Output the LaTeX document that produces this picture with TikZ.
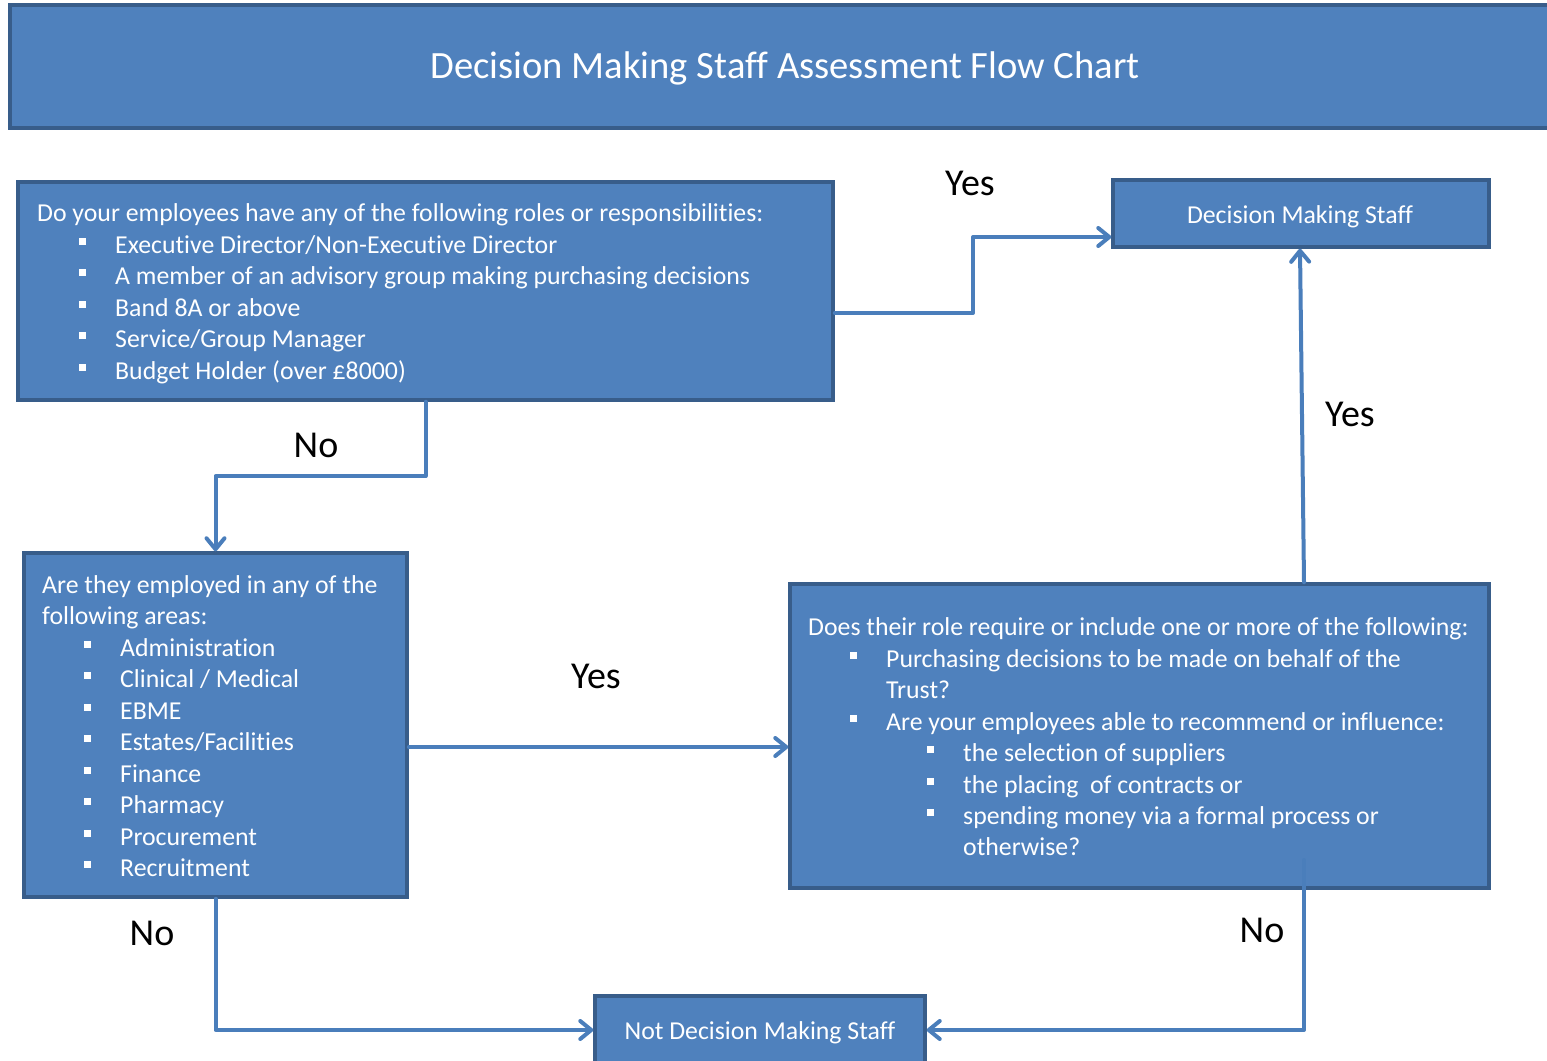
\documentclass[tikz,border=0pt]{standalone}
\usepackage{fontspec}
\setmainfont{Carlito}[Ligatures={NoCommon,NoContextual},RawFeature={-liga;-clig;-rlig;-dlig}]
\usetikzlibrary{arrows.meta}
\definecolor{boxfill}{HTML}{4F81BD}
\definecolor{boxline}{HTML}{385D8A}
\definecolor{connline}{HTML}{4A7EBB}
\newcommand{\bsq}{\raisebox{8.5pt}{\rule{6.5pt}{6.5pt}}}
\newcommand{\bl}[1]{\makebox[36pt][l]{\bsq}#1}
\tikzset{
  box/.style={draw=boxline, fill=boxfill, line width=3.5pt, rectangle, inner sep=0pt},
  txt/.style={text=white, inner sep=0pt, anchor=base west, font=\fontsize{25.8}{31.5}\selectfont},
  ctxt/.style={text=white, inner sep=0pt, anchor=base, font=\fontsize{25.8}{31.5}\selectfont},
  lbl/.style={text=black, inner sep=0pt, anchor=base, font=\fontsize{38}{42}\selectfont},
  conn/.style={draw=connline, line width=4pt, line join=round, line cap=round,
    -{Straight Barb[length=11pt, width=18pt, line cap=round, line join=round]}},
}
\begin{document}
\begin{tikzpicture}[x=1pt, y=-1pt]
\useasboundingbox (0,0) rectangle (1547,1060);
% boxes
\node[box, minimum width=1560pt, minimum height=123pt] (title) at (790,66.5) {};
\node[text=white, inner sep=0pt, anchor=base, font=\fontsize{38.6}{42}\selectfont] (titletxt) at (785,78) {Decision Making Staff Assessment Flow Chart};
\node[box, minimum width=815pt, minimum height=218pt] (b1) at (425.5,291) {};
\node[box, minimum width=376pt, minimum height=67pt] (dms) at (1301,213.5) {};
\node[box, minimum width=383pt, minimum height=344pt] (b2) at (215.5,725) {};
\node[box, minimum width=699pt, minimum height=304pt] (b3) at (1139.5,736) {};
\node[box, minimum width=330pt, minimum height=80pt] (ndms) at (760,1036) {};
% box texts
\node[ctxt] (dmst) at (1300,223) {Decision Making Staff};
\node[ctxt] (ndmst) at (760,1039) {Not Decision Making Staff};
\node[txt] (t1a) at (37,221) {Do your employees have any of the following roles or responsibilities:};
\node[txt] (t1b) at (79,253) {\bl{Executive Director/Non-Executive Director}};
\node[txt] (t1c) at (79,284) {\bl{A member of an advisory group making purchasing decisions}};
\node[txt] (t1d) at (79,316) {\bl{Band 8A or above}};
\node[txt] (t1e) at (79,347) {\bl{Service/Group Manager}};
\node[txt] (t1f) at (79,379) {\bl{Budget Holder (over £8000)}};
\node[txt] (t2a) at (42,593) {Are they employed in any of the};
\node[txt] (t2b) at (42,624) {following areas:};
\node[txt] (t2c) at (84,656) {\bl{Administration}};
\node[txt] (t2d) at (84,687) {\bl{Clinical / Medical}};
\node[txt] (t2e) at (84,719) {\bl{EBME}};
\node[txt] (t2f) at (84,750) {\bl{Estates/Facilities}};
\node[txt] (t2g) at (84,782) {\bl{Finance}};
\node[txt] (t2h) at (84,813) {\bl{Pharmacy}};
\node[txt] (t2i) at (84,845) {\bl{Procurement}};
\node[txt] (t2j) at (84,876) {\bl{Recruitment}};
\node[txt] (t3a) at (808,635) {Does their role require or include one or more of the following:};
\node[txt] (t3b) at (850,667) {\bl{Purchasing decisions to be made on behalf of the}};
\node[txt] (t3c) at (886,698) {Trust?};
\node[txt] (t3d) at (850,730) {\bl{Are your employees able to recommend or influence:}};
\node[txt] (t3e) at (927,761) {\bl{the selection of suppliers}};
\node[txt] (t3f) at (927,793) {\bl{the placing\ \ of contracts or}};
\node[txt] (t3g) at (927,824) {\bl{spending money via a formal process or}};
\node[txt] (t3h) at (963,855) {otherwise?};
% bend coordinates
\coordinate (k1) at (973,313);
\coordinate (k2) at (973,237);
\coordinate (k3) at (215.5,476);
\coordinate (k4) at (600,747);
\coordinate (k5) at (1304,0);
\coordinate (k6) at (1300,0);
\coordinate (k7) at (1304,1030);
\coordinate (k7a) at (1304,860);
\coordinate (k8) at (215.5,1030);
% connectors
\draw[conn] (k1 -| b1.east) -- (k1) -- (k2) -- (k2 -| dms.west);
\draw[conn] (b1.south) -- (b1.south |- k3) -- (k3) -- (b2.north);
\draw[conn] (k4 -| b2.east) -- (k4 -| b3.west);
\draw[conn] (b3.north -| k5) -- (dms.south -| k6);
\draw[conn] (k7a) -- (k7) -- (k7 -| ndms.east);
\draw[conn] (b2.south) -- (k8) -- (k8 -| ndms.west);
% labels
\node[lbl] (y1) at (970,195) {Yes};
\node[lbl] (n1) at (316,457) {No};
\node[lbl] (y2) at (596,688) {Yes};
\node[lbl] (y3) at (1350,426) {Yes};
\node[lbl] (n2) at (152,945) {No};
\node[lbl] (n3) at (1262,942) {No};
\end{tikzpicture}
\end{document}
